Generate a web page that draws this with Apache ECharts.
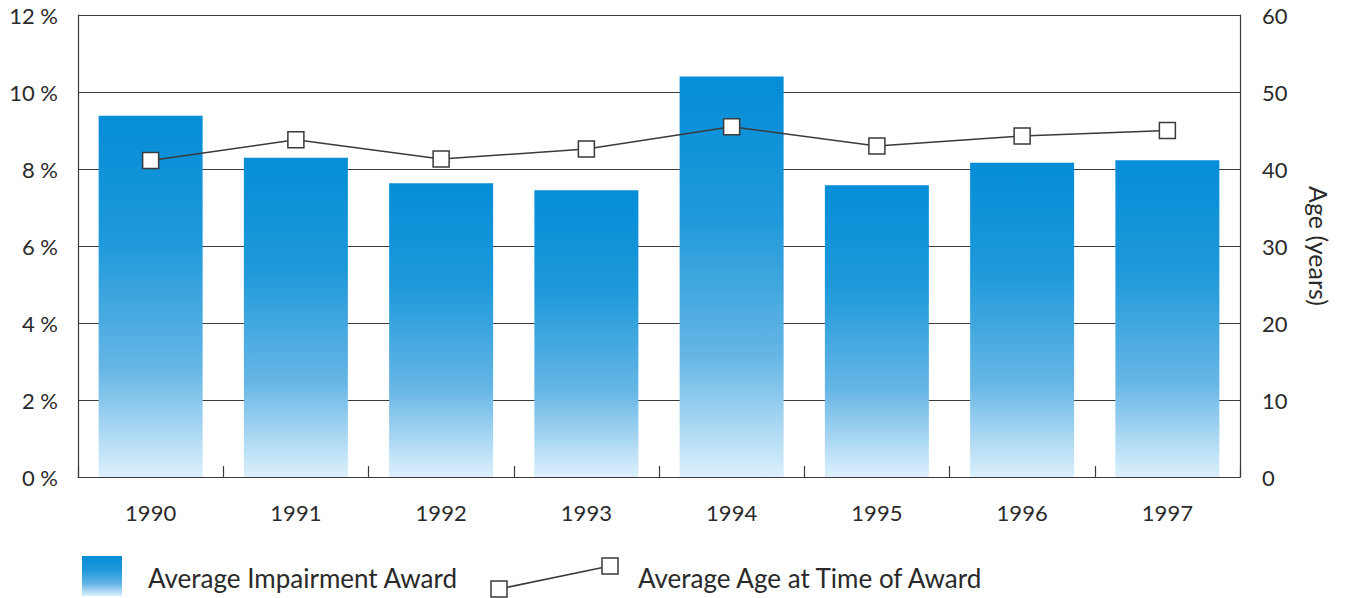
<!DOCTYPE html>
<html>
<head>
<meta charset="utf-8">
<title>Average Impairment Award and Average Age at Time of Award, 1990–1997</title>
<script src="https://cdn.jsdelivr.net/npm/echarts@6/dist/echarts.min.js"></script>
<style>
  html, body { margin: 0; padding: 0; background: #ffffff; }
  #chart { width: 1349px; height: 598px; }
</style>
</head>
<body>
<div id="chart"></div>
<script>
// Award years
const years = ['1990', '1991', '1992', '1993', '1994', '1995', '1996', '1997'];
// Average impairment award (% of whole person)
const impairmentAward = [9.38, 8.29, 7.63, 7.45, 10.40, 7.58, 8.16, 8.23];
// Average age at time of award (years)
const ageAtAward = [41.1, 43.8, 41.3, 42.6, 45.5, 43.0, 44.3, 45.0];
// Axis tick labels
const pctTicks = [0, 2, 4, 6, 8, 10, 12];
const ageTicks = [0, 10, 20, 30, 40, 50, 60];

const seriesNames = ['Average Impairment Award', 'Average Age at Time of Award'];

const FONT = 'Lato';
const INK = '#2a2a2a';
const LINE = '#3a3a3a';

const barGradient = () => new echarts.graphic.LinearGradient(0, 0, 0, 1, [
  { offset: 0, color: '#058dd7' },
  { offset: 0.35, color: '#1e99da' },
  { offset: 0.7, color: '#66b6e5' },
  { offset: 1, color: '#dcf0fc' }
]);

const chart = echarts.init(document.getElementById('chart'), null, { renderer: 'svg' });

chart.setOption({
  backgroundColor: '#ffffff',
  animation: false,
  textStyle: { fontFamily: FONT, color: INK },
  grid: { left: 78, right: 109, top: 15, bottom: 121, containLabel: false },
  xAxis: {
    type: 'category',
    data: years,
    boundaryGap: true,
    axisLine: { show: true, lineStyle: { color: LINE, width: 1.2 } },
    axisTick: { show: true, inside: true, length: 11, lineStyle: { color: LINE, width: 1.2 } },
    axisLabel: { margin: 24, fontSize: 22, fontFamily: FONT, color: INK },
    splitLine: { show: false }
  },
  yAxis: [
    {
      type: 'value',
      min: pctTicks[0],
      max: pctTicks[pctTicks.length - 1],
      interval: 2,
      axisLine: { show: true, lineStyle: { color: LINE, width: 1.2 } },
      axisTick: { show: false },
      axisLabel: {
        margin: 20, fontSize: 22, fontFamily: FONT, color: INK,
        formatter: v => v + ' %'
      },
      splitLine: { show: true, lineStyle: { color: LINE, width: 1 } }
    },
    {
      type: 'value',
      position: 'right',
      min: ageTicks[0],
      max: ageTicks[ageTicks.length - 1],
      interval: 10,
      name: 'Age (years)',
      nameLocation: 'middle',
      nameRotate: -90,
      nameGap: 66,
      nameTextStyle: { fontSize: 25, fontFamily: FONT, color: INK },
      axisLine: { show: true, lineStyle: { color: LINE, width: 1.2 } },
      axisTick: { show: false },
      axisLabel: { margin: 22, fontSize: 22, fontFamily: FONT, color: INK },
      splitLine: { show: false }
    }
  ],
  series: [
    {
      name: seriesNames[0],
      type: 'bar',
      yAxisIndex: 0,
      data: impairmentAward,
      barWidth: 104,
      itemStyle: { color: barGradient() },
      z: 2
    },
    {
      name: seriesNames[1],
      type: 'line',
      yAxisIndex: 1,
      data: ageAtAward,
      symbol: 'rect',
      symbolSize: 16,
      lineStyle: { color: LINE, width: 1.5 },
      itemStyle: { color: '#ffffff', borderColor: LINE, borderWidth: 1.5 },
      z: 3
    }
  ],
  graphic: [
    // Bar series key
    {
      type: 'rect',
      shape: { x: 82, y: 556, width: 40, height: 40 },
      style: { fill: barGradient() }
    },
    {
      type: 'text',
      x: 148, y: 578,
      style: {
        text: seriesNames[0], fontFamily: FONT, fontSize: 26, fill: INK,
        textVerticalAlign: 'middle'
      }
    },
    // Line series key
    {
      type: 'polyline',
      shape: { points: [[499, 589], [610, 566]] },
      style: { stroke: LINE, lineWidth: 1.5, fill: null }
    },
    {
      type: 'rect',
      shape: { x: 491, y: 581, width: 16, height: 16 },
      style: { fill: '#ffffff', stroke: LINE, lineWidth: 1.5 }
    },
    {
      type: 'rect',
      shape: { x: 602, y: 558, width: 16, height: 16 },
      style: { fill: '#ffffff', stroke: LINE, lineWidth: 1.5 }
    },
    {
      type: 'text',
      x: 638, y: 578,
      style: {
        text: seriesNames[1], fontFamily: FONT, fontSize: 26, fill: INK,
        textVerticalAlign: 'middle'
      }
    }
  ]
});
</script>
</body>
</html>
